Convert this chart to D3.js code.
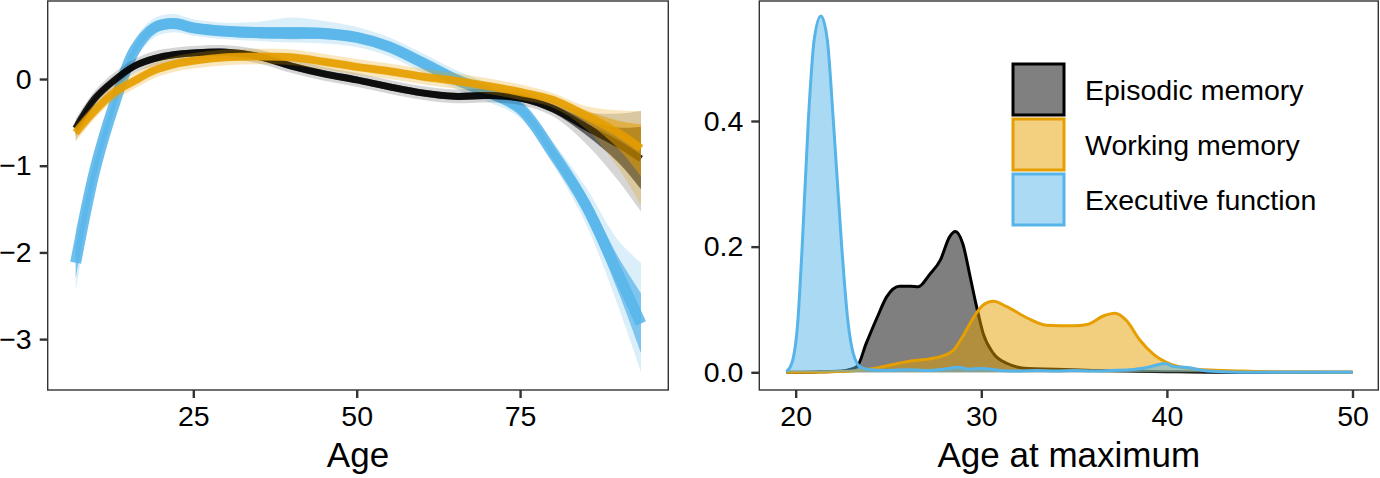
<!DOCTYPE html>
<html>
<head>
<meta charset="utf-8">
<script src="https://cdn.jsdelivr.net/npm/d3@7"></script>
<style>
  body { margin: 0; background: #fff; }
  text { font-family: "Liberation Sans", Arial, sans-serif; fill: #000; }
</style>
</head>
<body>
<div id="container"></div>
<script>
/* DATA */
// left panel: trajectories by age (many bootstrap fits -> centre, core band, outer band)
const ages = [7, 10, 13, 16, 19, 22, 25, 30, 35, 40, 45, 50, 55, 60, 65, 70, 75, 80, 85, 90, 93.5];

const episodicMid    = [-0.57, -0.22, -0.01, 0.15, 0.235, 0.28, 0.30, 0.31, 0.26, 0.15, 0.06, -0.01, -0.09, -0.16, -0.20, -0.19, -0.22, -0.34, -0.55, -0.75, -0.92];
const episodicHi     = [-0.46, -0.13, 0.08, 0.23, 0.32, 0.36, 0.38, 0.39, 0.34, 0.23, 0.14, 0.07, -0.01, -0.08, -0.12, -0.11, -0.14, -0.26, -0.38, -0.40, -0.37];
const episodicLo     = [-0.72, -0.32, -0.10, 0.07, 0.15, 0.20, 0.22, 0.23, 0.18, 0.07, -0.02, -0.09, -0.17, -0.24, -0.28, -0.27, -0.30, -0.43, -0.74, -1.17, -1.53];
const episodicCoreHi = [-0.52, -0.18, 0.03, 0.19, 0.275, 0.32, 0.34, 0.35, 0.30, 0.19, 0.10, 0.03, -0.05, -0.12, -0.16, -0.15, -0.18, -0.29, -0.46, -0.56, -0.55];
const episodicCoreLo = [-0.64, -0.26, -0.05, 0.11, 0.195, 0.24, 0.26, 0.27, 0.22, 0.11, 0.02, -0.05, -0.13, -0.20, -0.24, -0.23, -0.26, -0.39, -0.64, -0.96, -1.27];

const workingMid    = [-0.62, -0.36, -0.15, -0.02, 0.10, 0.17, 0.21, 0.25, 0.26, 0.25, 0.20, 0.14, 0.09, 0.03, -0.02, -0.08, -0.15, -0.24, -0.42, -0.62, -0.80];
const workingHi     = [-0.53, -0.27, -0.06, 0.07, 0.19, 0.26, 0.30, 0.34, 0.35, 0.34, 0.29, 0.23, 0.18, 0.12, 0.07, 0.01, -0.06, -0.16, -0.31, -0.36, -0.37];
const workingLo     = [-0.72, -0.45, -0.24, -0.11, 0.01, 0.08, 0.12, 0.16, 0.17, 0.16, 0.11, 0.05, 0.00, -0.06, -0.11, -0.17, -0.24, -0.33, -0.57, -1.02, -1.46];
const workingCoreHi = [-0.58, -0.32, -0.11, 0.02, 0.14, 0.21, 0.25, 0.29, 0.30, 0.29, 0.24, 0.18, 0.13, 0.07, 0.02, -0.04, -0.11, -0.20, -0.36, -0.48, -0.52];
const workingCoreLo = [-0.66, -0.40, -0.19, -0.06, 0.06, 0.13, 0.17, 0.21, 0.22, 0.21, 0.16, 0.10, 0.05, -0.01, -0.06, -0.12, -0.19, -0.28, -0.49, -0.80, -1.12];

const executiveMid    = [-2.12, -1.03, -0.27, 0.33, 0.59, 0.64, 0.59, 0.55, 0.535, 0.53, 0.525, 0.48, 0.37, 0.19, 0.00, -0.15, -0.34, -0.85, -1.45, -2.25, -2.82];
const executiveHi     = [-1.75, -0.80, -0.10, 0.45, 0.70, 0.75, 0.69, 0.65, 0.66, 0.71, 0.67, 0.60, 0.48, 0.30, 0.11, -0.05, -0.23, -0.72, -1.24, -1.86, -2.12];
const executiveLo     = [-2.45, -1.24, -0.43, 0.21, 0.48, 0.54, 0.50, 0.46, 0.44, 0.42, 0.41, 0.37, 0.26, 0.08, -0.11, -0.26, -0.45, -0.98, -1.66, -2.62, -3.38];
const executiveCoreHi = [-1.95, -0.92, -0.19, 0.39, 0.65, 0.70, 0.65, 0.61, 0.60, 0.60, 0.59, 0.54, 0.43, 0.25, 0.06, -0.09, -0.28, -0.78, -1.33, -2.05, -2.47];
const executiveCoreLo = [-2.30, -1.14, -0.35, 0.27, 0.53, 0.58, 0.53, 0.49, 0.47, 0.46, 0.46, 0.42, 0.31, 0.13, -0.06, -0.21, -0.40, -0.92, -1.57, -2.45, -3.16];

// right panel: density of age at maximum
const episodicPeakAge = [19.5, 21, 22.5, 23.3, 23.8, 24.4, 24.9, 25.6, 26.2, 26.6, 27.2, 27.8, 28.3, 28.6, 29.0, 29.4, 29.75, 30.1, 30.65, 31.4, 32.5, 34, 36, 38, 40, 43, 50];
const episodicDensity = [0, 0.0005, 0.002, 0.009, 0.046, 0.088, 0.12, 0.137, 0.137, 0.136, 0.155, 0.179, 0.216, 0.224, 0.205, 0.152, 0.104, 0.062, 0.030, 0.014, 0.006, 0.005, 0.003, 0.002, 0.001, 0, 0];

const workingPeakAge = [19.5, 22, 23, 24.2, 26, 27.8, 28.5, 29.0, 29.6, 30.1, 30.65, 31.4, 32.5, 33.5, 35.0, 35.7, 36.6, 37.2, 37.8, 38.55, 39.3, 40.2, 41, 42, 44, 46, 50];
const workingDensity = [0, 0.001, 0.002, 0.006, 0.017, 0.025, 0.035, 0.057, 0.088, 0.107, 0.113, 0.104, 0.086, 0.075, 0.074, 0.076, 0.090, 0.094, 0.083, 0.051, 0.028, 0.013, 0.007, 0.004, 0.002, 0.0005, 0];

const executivePeakAge = [19.5, 19.8, 20.1, 20.35, 20.68, 21.0, 21.36, 21.7, 22.03, 22.48, 22.8, 23.1, 23.5, 24, 25, 26, 27, 28, 28.8, 29.3, 30, 31, 32, 33, 34, 35, 36, 37, 38, 39, 39.9, 40.4, 41, 42, 43, 45, 50];
const executiveDensity = [0.001, 0.015, 0.075, 0.2, 0.4, 0.53, 0.567, 0.53, 0.4, 0.2, 0.085, 0.03, 0.008, 0.004, 0.003, 0.004, 0.003, 0.005, 0.008, 0.005, 0.006, 0.003, 0.002, 0.003, 0.002, 0.003, 0.002, 0.003, 0.004, 0.008, 0.014, 0.009, 0.008, 0.003, 0.001, 0, 0];

const labels = ["Episodic memory", "Working memory", "Executive function"];
const colors = ["#000000", "#E69F00", "#56B4E9"];

const ageTicks = [25, 50, 75];
const valueTicks = [0, -1, -2, -3];
const maxAgeTicks = [20, 30, 40, 50];
const densityTicks = [0, 0.2, 0.4];

/* CONSTANTS AND GLOBALS */
const width = 1380, height = 478;
const leftPanel = { x0: 47.7, x1: 668.3, y0: 1, y1: 390 };
const rightPanel = { x0: 759.3, x1: 1378.3, y0: 1, y1: 390 };
const fontTick = 28.5, fontTitle = 35;

/* SCALES */
const xAge = d3.scaleLinear().domain([2.72, 97.68]).range([leftPanel.x0, leftPanel.x1]);
const yValue = d3.scaleLinear().domain([-3.587, 0.9]).range([leftPanel.y1, leftPanel.y0]);
const xMaxAge = d3.scaleLinear().domain([18.04, 51.39]).range([rightPanel.x0, rightPanel.x1]);
const yDensity = d3.scaleLinear().domain([-0.0282, 0.591]).range([rightPanel.y1, rightPanel.y0]);

/* HTML ELEMENTS */
const svg = d3.select("#container")
  .append("svg")
  .attr("width", width)
  .attr("height", height);

// clip paths
const defs = svg.append("defs");
[["clipL", leftPanel], ["clipR", rightPanel]].forEach(([id, p]) => {
  defs.append("clipPath").attr("id", id)
    .append("rect")
    .attr("x", p.x0).attr("y", p.y0)
    .attr("width", p.x1 - p.x0).attr("height", p.y1 - p.y0);
});

/* LEFT PANEL: trajectories */
// drawn blue, black, orange so the fan at old ages reads orange with dark strands
const trajectories = [
  { mid: executiveMid, hi: executiveHi, lo: executiveLo, coreHi: executiveCoreHi, coreLo: executiveCoreLo, color: colors[2], w: 11, outer: 0.22, core: 0.7 },
  { mid: episodicMid, hi: episodicHi, lo: episodicLo, coreHi: episodicCoreHi, coreLo: episodicCoreLo, color: colors[0], w: 7, outer: 0.16, core: 0.55 },
  { mid: workingMid, hi: workingHi, lo: workingLo, coreHi: workingCoreHi, coreLo: workingCoreLo, color: colors[1], w: 8, outer: 0.25, core: 0.55 }
];

const curveL = d3.curveCatmullRom.alpha(0.5);
const band = (lo, hi) => d3.area()
  .x((d, i) => xAge(ages[i]))
  .y0((d, i) => yValue(lo[i]))
  .y1((d, i) => yValue(hi[i]))
  .curve(curveL)(ages);
const trace = vals => d3.line()
  .x((d, i) => xAge(ages[i]))
  .y((d, i) => yValue(vals[i]))
  .curve(curveL)(ages);

const gL = svg.append("g").attr("clip-path", "url(#clipL)");
trajectories.forEach(s => {
  const g = gL.append("g");
  g.append("path").attr("d", band(s.lo, s.hi))
    .attr("fill", s.color).attr("fill-opacity", s.outer);
  g.append("path").attr("d", band(s.coreLo, s.coreHi))
    .attr("fill", s.color).attr("fill-opacity", s.core);
  g.append("path").attr("d", trace(s.mid))
    .attr("fill", "none").attr("stroke", s.color)
    .attr("stroke-width", s.w).attr("stroke-opacity", 0.85);
});

/* RIGHT PANEL: densities */
const densities = [
  { x: episodicPeakAge, y: episodicDensity, color: colors[0] },
  { x: workingPeakAge, y: workingDensity, color: colors[1] },
  { x: executivePeakAge, y: executiveDensity, color: colors[2] }
];

const gR = svg.append("g").attr("clip-path", "url(#clipR)");
densities.forEach(s => {
  const idx = d3.range(s.x.length);
  const area = d3.area()
    .x(i => xMaxAge(s.x[i]))
    .y0(yDensity(0))
    .y1(i => yDensity(s.y[i]))
    .curve(d3.curveMonotoneX);
  const line = d3.line()
    .x(i => xMaxAge(s.x[i]))
    .y(i => yDensity(s.y[i]))
    .curve(d3.curveMonotoneX);
  gR.append("path").attr("d", area(idx))
    .attr("fill", s.color).attr("fill-opacity", 0.5);
  gR.append("path").attr("d", line(idx))
    .attr("fill", "none").attr("stroke", s.color)
    .attr("stroke-width", 3).attr("stroke-linejoin", "round");
});

/* FRAMES */
[leftPanel, rightPanel].forEach(p => {
  svg.append("rect")
    .attr("x", p.x0).attr("y", p.y0)
    .attr("width", p.x1 - p.x0).attr("height", p.y1 - p.y0)
    .attr("fill", "none").attr("stroke", "#333").attr("stroke-width", 1.4);
});

/* AXES */
function styleAxis(g) {
  g.select(".domain").remove();
  g.selectAll(".tick line").attr("stroke", "#333").attr("stroke-width", 2.4);
  g.selectAll(".tick text")
    .attr("font-size", fontTick)
    .attr("font-family", '"Liberation Sans", Arial, sans-serif')
    .attr("fill", "#000");
}

svg.append("g")
  .attr("transform", `translate(0,${leftPanel.y1})`)
  .call(d3.axisBottom(xAge).tickValues(ageTicks).tickSize(8).tickPadding(8))
  .call(styleAxis);

svg.append("g")
  .attr("transform", `translate(${leftPanel.x0},0)`)
  .call(d3.axisLeft(yValue).tickValues(valueTicks).tickSize(8).tickPadding(8).tickFormat(d3.format("d")))
  .call(styleAxis);

svg.append("g")
  .attr("transform", `translate(0,${rightPanel.y1})`)
  .call(d3.axisBottom(xMaxAge).tickValues(maxAgeTicks).tickSize(8).tickPadding(8))
  .call(styleAxis);

svg.append("g")
  .attr("transform", `translate(${rightPanel.x0},0)`)
  .call(d3.axisLeft(yDensity).tickValues(densityTicks).tickSize(8).tickPadding(8).tickFormat(d3.format(".1f")))
  .call(styleAxis);

// axis titles
svg.append("text")
  .attr("x", (leftPanel.x0 + leftPanel.x1) / 2).attr("y", 466.5)
  .attr("text-anchor", "middle").attr("font-size", fontTitle)
  .text("Age");

svg.append("text")
  .attr("x", (rightPanel.x0 + rightPanel.x1) / 2).attr("y", 466.5)
  .attr("text-anchor", "middle").attr("font-size", fontTitle)
  .text("Age at maximum");

/* LEGEND */
const legend = svg.append("g").attr("transform", "translate(1011.5,62.5)");
labels.forEach((lab, i) => {
  legend.append("rect")
    .attr("x", 1.5).attr("y", i * 55 + 1.5)
    .attr("width", 51).attr("height", 51)
    .attr("fill", d3.interpolateRgb(colors[i], "#fff")(0.5))
    .attr("stroke", colors[i]).attr("stroke-width", 3);
  legend.append("text")
    .attr("x", 73.5).attr("y", i * 55 + 27.5)
    .attr("dy", "0.35em")
    .attr("font-size", fontTick)
    .text(lab);
});
</script>
</body>
</html>
